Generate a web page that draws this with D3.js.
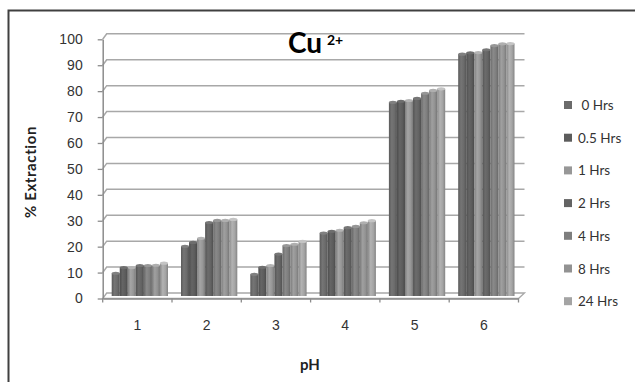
<!DOCTYPE html>
<html>
<head>
<meta charset="utf-8">
<script src="https://cdn.jsdelivr.net/npm/d3@7"></script>
<style>
  body { margin: 0; background: #fff; }
  svg { display: block; font-family: Lato, "Open Sans", sans-serif; }
</style>
</head>
<body>
<svg></svg>
<script>
var width = 635;
var height = 382;

// data
var categories = ['1', '2', '3', '4', '5', '6'];
var seriesNames = ['0 Hrs', '0.5 Hrs', '1 Hrs', '2 Hrs', '4 Hrs', '8 Hrs', '24 Hrs'];
var legendLabels = [' 0 Hrs', '0.5 Hrs', '1 Hrs', '2 Hrs', '4 Hrs', '8 Hrs', '24 Hrs'];
var hrs0 = [8.2, 18.6, 7.8, 23.7, 74.2, 92.8];
var hrs05 = [10.4, 20.1, 10.5, 24.4, 74.6, 93.3];
var hrs1 = [10.4, 21.7, 11.2, 24.8, 74.9, 93.4];
var hrs2 = [11.2, 27.8, 15.6, 25.8, 75.7, 94.5];
var hrs4 = [11.2, 28.6, 18.9, 26.3, 77.7, 96.1];
var hrs8 = [11.3, 28.6, 19.4, 27.7, 78.8, 96.8];
var hrs24 = [12.1, 29.0, 20.5, 28.5, 79.4, 96.9];
var yTicks = [0, 10, 20, 30, 40, 50, 60, 70, 80, 90, 100];
var colors = ['#6b6b6b', '#5c5c5c', '#979797', '#636363', '#7e7e7e', '#929292', '#a4a4a4'];

var series = [hrs0, hrs05, hrs1, hrs2, hrs4, hrs8, hrs24];

var svg = d3.select('svg')
  .attr('width', width)
  .attr('height', height);

var depthX = 4;
var depthY = 5.5;
var right = 518.5;

var x = d3.scaleBand()
  .domain(categories)
  .range([102.7, right]);

var xInner = d3.scaleBand()
  .domain(seriesNames)
  .range([0, 56.3]);

var yFront = d3.scaleLinear()
  .domain([0, 100])
  .range([298.5, 39.3]);

var yBar = d3.scaleLinear()
  .domain([0, 100])
  .range([294.5, 35.5]);

// outer frame
svg.append('path')
  .attr('d', 'M8.5,' + height + 'V10.5H' + width)
  .attr('fill', 'none')
  .attr('stroke', '#404040')
  .attr('stroke-width', 2);

// floor
svg.append('path')
  .attr('d', 'M102.7,' + yFront(0) + 'H' + right + 'L' + (right + depthX + 2) + ',' + (yFront(0) - depthY) +
    'H' + (102.7 + depthX) + 'Z')
  .attr('fill', '#fff')
  .attr('stroke', '#a8a8a8')
  .attr('stroke-width', 1.3);

// gridlines on the back wall
svg.append('g')
  .selectAll('path')
  .data(yTicks.slice(1))
  .enter()
  .append('path')
  .attr('d', function(d) {
    var yf = yFront(d);
    return 'M102.7,' + yf + 'L' + (102.7 + depthX) + ',' + (yf - depthY) + 'H' + (right + depthX + 2);
  })
  .attr('fill', 'none')
  .attr('stroke', '#a8a8a8')
  .attr('stroke-width', 1.5);

// gradients for the bars
var defs = svg.append('defs');
colors.forEach(function(c, i) {
  var g = defs.append('linearGradient')
    .attr('id', 'grad-' + i)
    .attr('x1', 0).attr('x2', 1).attr('y1', 0).attr('y2', 0);
  g.append('stop').attr('offset', '0%').attr('stop-color', d3.color(c).darker(0.5));
  g.append('stop').attr('offset', '35%').attr('stop-color', d3.color(c).brighter(0.25));
  g.append('stop').attr('offset', '70%').attr('stop-color', c);
  g.append('stop').attr('offset', '100%').attr('stop-color', d3.color(c).darker(0.6));
});

var bw = xInner.bandwidth();

var barGroups = svg.append('g')
  .selectAll('g')
  .data(series)
  .enter()
  .append('g');

barGroups.each(function(values, i) {
  var g = d3.select(this);
  g.selectAll('rect')
    .data(values)
    .enter()
    .append('rect')
    .attr('x', function(d, j) { return x(categories[j]) + 9 + xInner(seriesNames[i]); })
    .attr('y', function(d) { return yBar(d); })
    .attr('width', bw)
    .attr('height', function(d) { return yBar(0) + 1.5 - yBar(d); })
    .attr('fill', 'url(#grad-' + i + ')');
  g.selectAll('ellipse')
    .data(values)
    .enter()
    .append('ellipse')
    .attr('cx', function(d, j) { return x(categories[j]) + 9 + xInner(seriesNames[i]) + bw / 2; })
    .attr('cy', function(d) { return yBar(d); })
    .attr('rx', bw / 2)
    .attr('ry', 1.6)
    .attr('fill', d3.color(colors[i]).brighter(0.5));
});

// y axis
var yAxis = svg.append('g')
  .attr('transform', 'translate(102.7,0)')
  .call(d3.axisLeft(yFront).tickValues(yTicks).tickSizeInner(5).tickSizeOuter(0).tickPadding(15));
yAxis.select('.domain').attr('stroke', '#8c8c8c').attr('stroke-width', 1.5);
yAxis.selectAll('.tick line').attr('stroke', '#8c8c8c').attr('stroke-width', 1.3);
yAxis.selectAll('.tick text')
  .attr('fill', '#333')
  .style('font-size', '14px');

// x axis
var xAxis = svg.append('g')
  .attr('transform', 'translate(0,' + yFront(0) + ')')
  .call(d3.axisBottom(x).tickSize(0).tickPadding(22));
xAxis.select('.domain').attr('stroke', '#8c8c8c').attr('stroke-width', 1.5);
xAxis.selectAll('.tick text')
  .attr('fill', '#333')
  .style('font-size', '14px');

svg.append('g')
  .selectAll('line')
  .data(categories.concat(['end']))
  .enter()
  .append('line')
  .attr('x1', function(d) { return d === 'end' ? right : x(d); })
  .attr('x2', function(d) { return d === 'end' ? right : x(d); })
  .attr('y1', yFront(0))
  .attr('y2', yFront(0) + 4)
  .attr('stroke', '#8c8c8c')
  .attr('stroke-width', 1.3);

// titles
svg.append('text')
  .attr('x', 288)
  .attr('y', 53)
  .style('font-size', '28px')
  .style('font-weight', 'bold')
  .attr('fill', '#000')
  .text('Cu');

svg.append('text')
  .attr('x', 327)
  .attr('y', 45)
  .style('font-size', '14px')
  .style('font-weight', 'bold')
  .attr('fill', '#000')
  .text('2+');

svg.append('text')
  .attr('transform', 'translate(36,172) rotate(-90)')
  .attr('text-anchor', 'middle')
  .style('font-size', '15px')
  .style('font-weight', 'bold')
  .style('letter-spacing', '0.6px')
  .attr('fill', '#222')
  .text('% Extraction');

svg.append('text')
  .attr('x', 310)
  .attr('y', 370)
  .attr('text-anchor', 'middle')
  .style('font-size', '15px')
  .style('font-weight', 'bold')
  .attr('fill', '#222')
  .text('pH');

// legend
var legend = svg.append('g')
  .selectAll('g')
  .data(legendLabels)
  .enter()
  .append('g')
  .attr('transform', function(d, i) { return 'translate(564,' + (105 + i * 32.7) + ')'; });

legend.append('rect')
  .attr('x', 0)
  .attr('y', -4)
  .attr('width', 8)
  .attr('height', 8)
  .attr('fill', function(d, i) { return colors[i]; });

legend.append('text')
  .attr('x', 14)
  .attr('y', 5)
  .style('font-size', '13.5px')
  .style('white-space', 'pre')
  .attr('fill', '#333')
  .text(function(d) { return d; });
</script>
</body>
</html>
